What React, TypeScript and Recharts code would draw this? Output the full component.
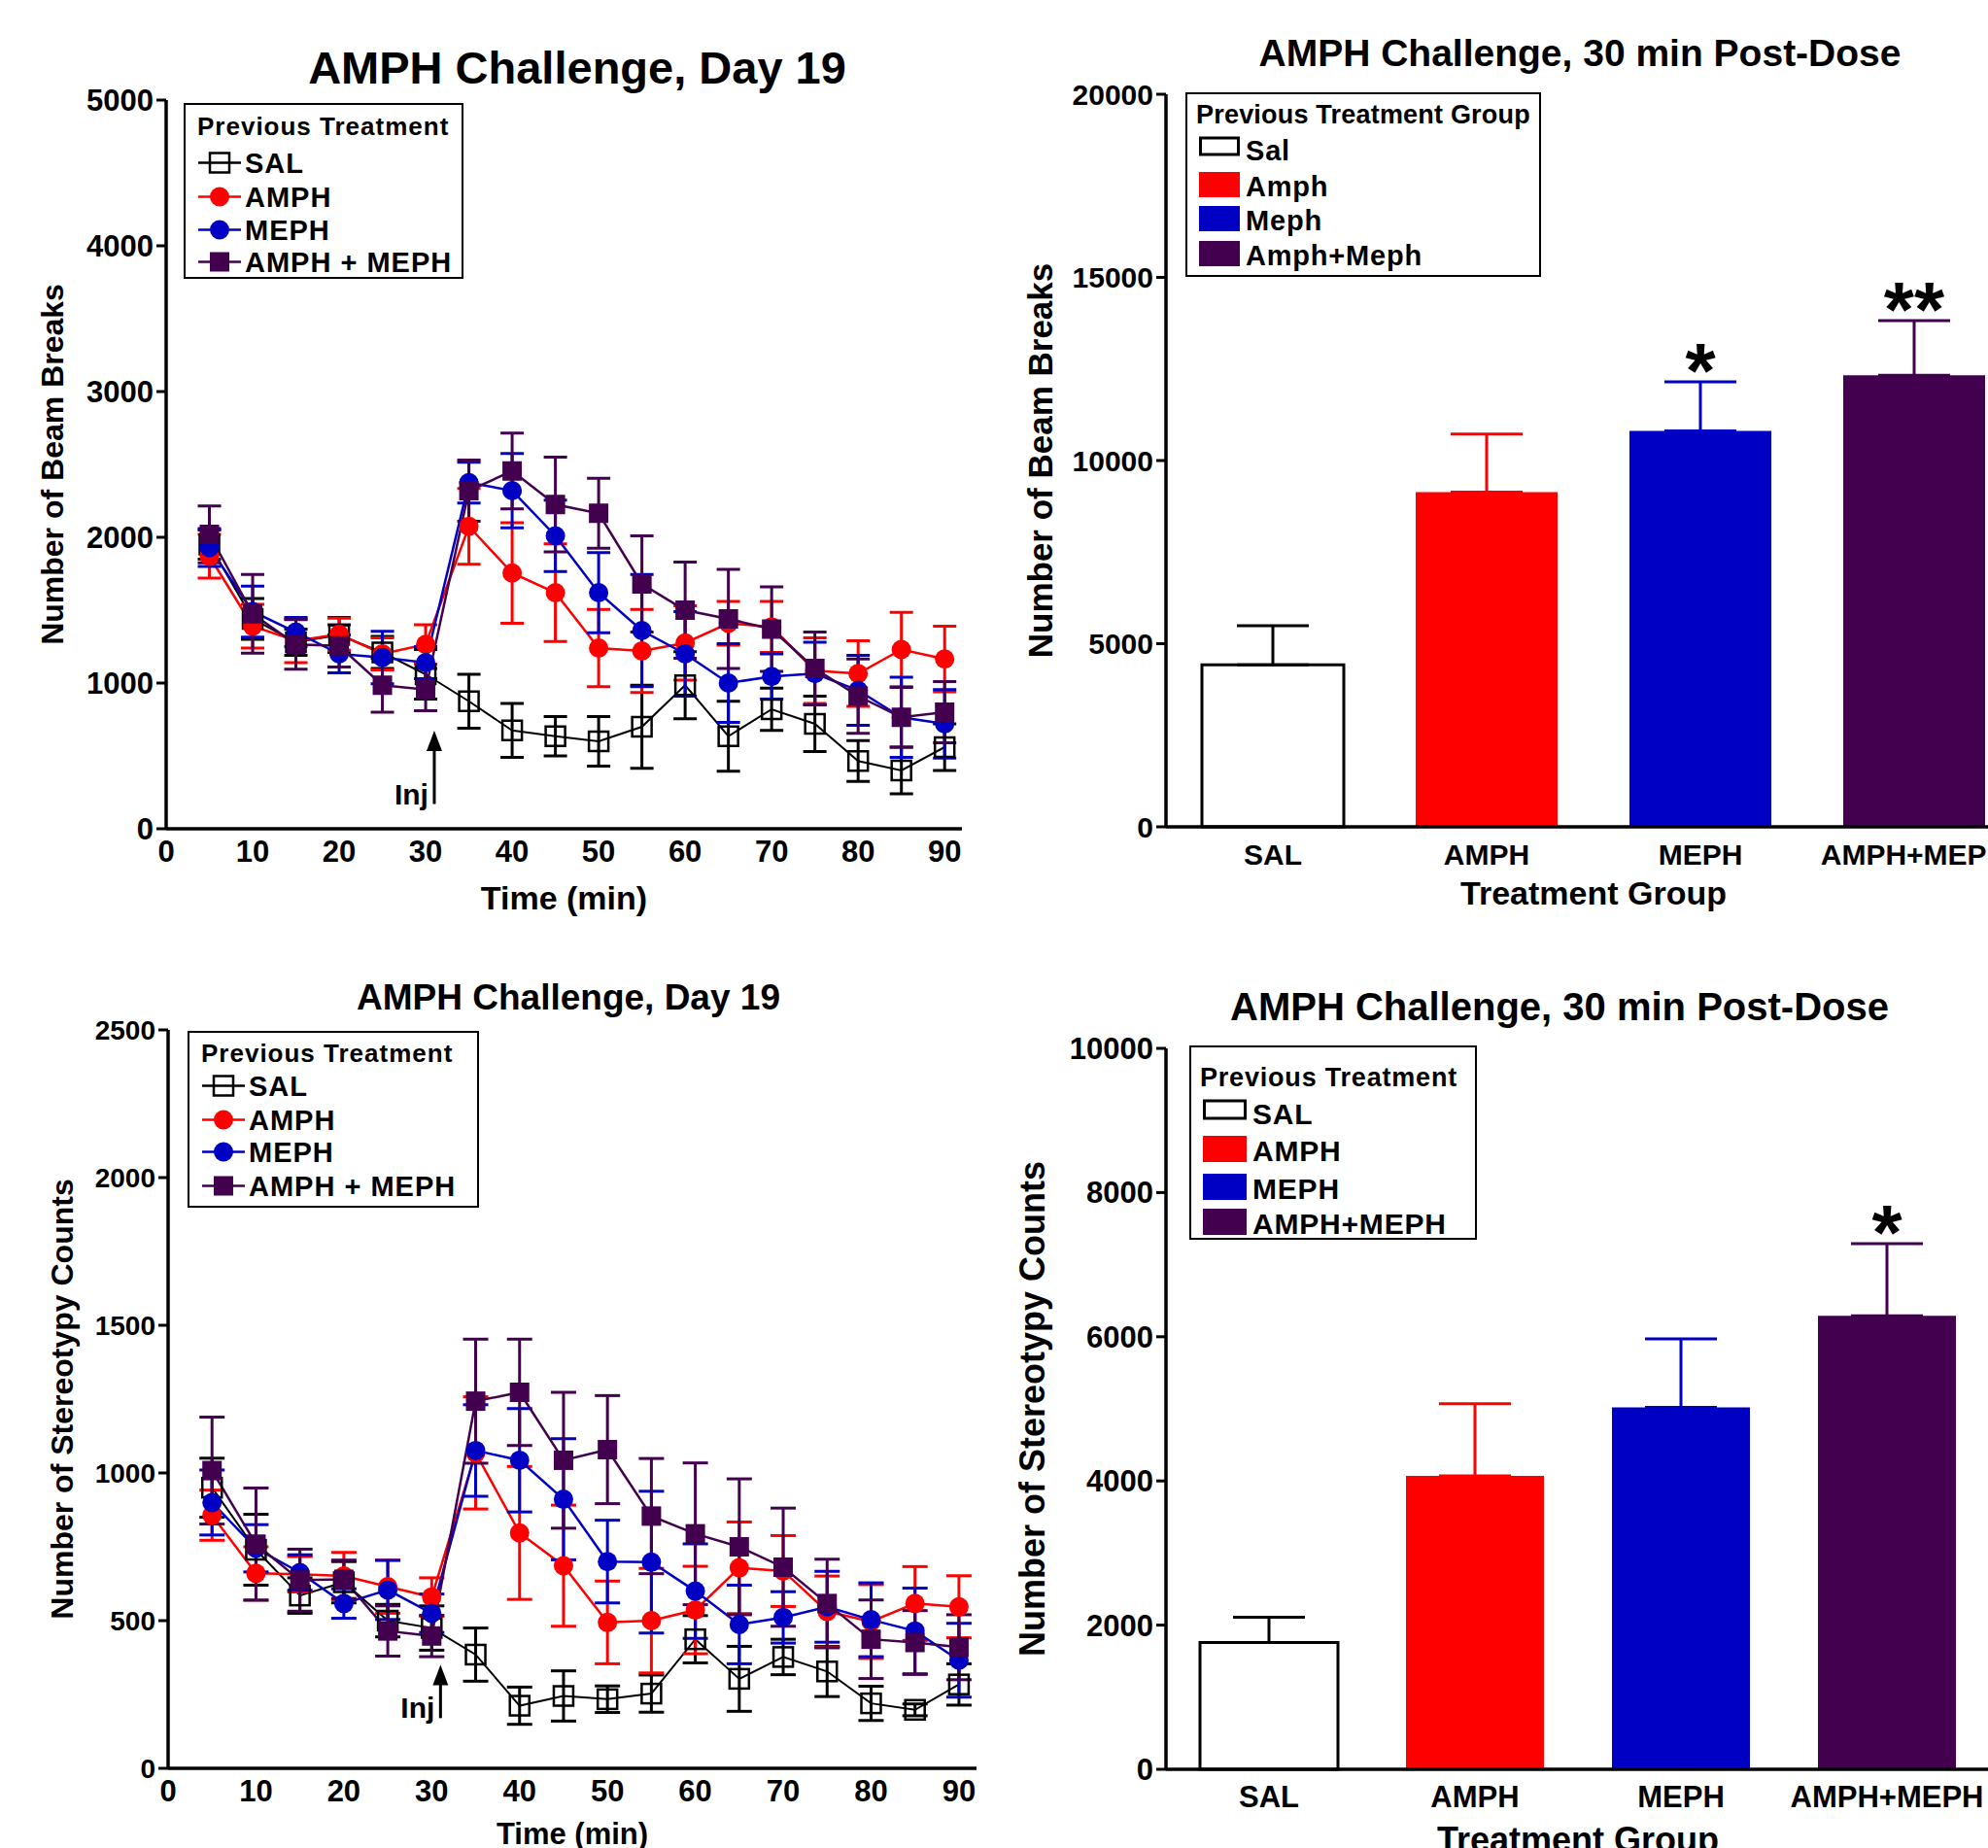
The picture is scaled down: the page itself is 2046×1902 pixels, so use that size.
import React from "react";
import {
  Bar,
  ComposedChart,
  ErrorBar,
  LabelList,
  Line,
  ReferenceDot,
  ReferenceLine,
  XAxis,
  YAxis,
} from "recharts";

const FONT = '"Liberation Sans", Arial, Helvetica, sans-serif';
const INK = "#000000";
const RED = "#ff0000";
const BLUE = "#0000c4";
const PURPLE = "#42004f";

// time course, 5-min bins
const TIMES = [5, 10, 15, 20, 25, 30, 35, 40, 45, 50, 55, 60, 65, 70, 75, 80, 85, 90];
const TIME_TICKS = [0, 10, 20, 30, 40, 50, 60, 70, 80, 90];
const INJ_TIME = 31;

// beam breaks (mean, SEM)
const BEAM_SAL = [1950, 1440, 1280, 1330, 1210, 1060, 875, 675, 635, 600, 700, 985, 635, 820, 720, 465, 400, 560];
const BEAM_SAL_SEM = [100, 140, 90, 120, 110, 170, 185, 185, 135, 170, 285, 230, 240, 145, 190, 140, 160, 160];
const BEAM_AMPH = [1870, 1390, 1290, 1335, 1200, 1265, 2075, 1755, 1620, 1240, 1220, 1275, 1410, 1385, 1085, 1065, 1230, 1165];
const BEAM_AMPH_SEM = [150, 150, 150, 110, 110, 135, 260, 345, 335, 265, 285, 255, 150, 175, 225, 225, 255, 225];
const BEAM_MEPH = [1930, 1490, 1350, 1200, 1175, 1140, 2375, 2320, 2010, 1620, 1360, 1200, 1000, 1045, 1065, 950, 765, 720];
const BEAM_MEPH_SEM = [130, 175, 100, 130, 180, 110, 140, 255, 245, 275, 385, 290, 270, 155, 215, 240, 275, 235];
const BEAM_COMBO = [2020, 1475, 1265, 1255, 985, 955, 2320, 2455, 2225, 2165, 1680, 1500, 1440, 1370, 1100, 910, 765, 800];
const BEAM_COMBO_SEM = [195, 270, 170, 145, 185, 145, 210, 260, 325, 240, 330, 330, 340, 290, 250, 255, 205, 210];
const BEAM_TICKS = [0, 1000, 2000, 3000, 4000, 5000];

// stereotypy counts (mean, SEM)
const STEREO_SAL = [950, 740, 585, 630, 500, 475, 385, 212, 245, 234, 253, 437, 303, 377, 328, 220, 198, 284];
const STEREO_SAL_SEM = [100, 120, 60, 70, 55, 75, 90, 63, 85, 45, 63, 80, 110, 60, 85, 58, 20, 70];
const STEREO_AMPH = [857, 660, 657, 651, 615, 580, 1068, 797, 686, 494, 500, 536, 679, 668, 531, 497, 558, 547];
const STEREO_AMPH_SEM = [85, 90, 60, 80, 90, 65, 190, 225, 205, 140, 177, 148, 155, 120, 120, 125, 125, 105];
const STEREO_MEPH = [900, 745, 663, 558, 604, 525, 1076, 1043, 911, 700, 698, 600, 487, 511, 547, 503, 465, 366];
const STEREO_MEPH_SEM = [110, 80, 60, 50, 100, 65, 155, 175, 205, 140, 240, 160, 133, 87, 120, 125, 145, 125];
const STEREO_COMBO = [1008, 759, 637, 640, 465, 448, 1243, 1273, 1043, 1079, 854, 794, 750, 681, 558, 437, 426, 410];
const STEREO_COMBO_SEM = [181, 190, 105, 65, 85, 70, 210, 180, 230, 183, 195, 240, 230, 200, 150, 133, 108, 110];
const STEREO_TICKS = [0, 500, 1000, 1500, 2000, 2500];

// 30 min post-dose totals
const GROUPS = ["SAL", "AMPH", "MEPH", "AMPH+MEPH"];
const BEAM_TOTAL = [4420, 9140, 10810, 12330];
const BEAM_TOTAL_SEM = [1070, 1580, 1340, 1490];
const BEAM_SIG = ["", "", "*", "**"];
const BEAM_TOTAL_TICKS = [0, 5000, 10000, 15000, 20000];
const STEREO_TOTAL = [1760, 4070, 5020, 6290];
const STEREO_TOTAL_SEM = [350, 1000, 950, 1000];
const STEREO_SIG = ["", "", "", "*"];
const STEREO_TOTAL_TICKS = [0, 2000, 4000, 6000, 8000, 10000];

type Kind = "openSquare" | "circle" | "square";

const SERIES: { key: string; name: string; color: string; kind: Kind; width: number }[] = [
  { key: "sal", name: "SAL", color: INK, kind: "openSquare", width: 2 },
  { key: "amph", name: "AMPH", color: RED, kind: "circle", width: 2.5 },
  { key: "meph", name: "MEPH", color: BLUE, kind: "circle", width: 2.5 },
  { key: "combo", name: "AMPH + MEPH", color: PURPLE, kind: "square", width: 2.5 },
];

const BAR_STYLES = [
  { fill: "#ffffff", stroke: INK, strokeWidth: 3, err: INK },
  { fill: RED, stroke: "none", strokeWidth: 0, err: RED },
  { fill: BLUE, stroke: "none", strokeWidth: 0, err: BLUE },
  { fill: PURPLE, stroke: "none", strokeWidth: 0, err: PURPLE },
];

function Marker(props: { kind: Kind; cx: number; cy: number; color: string }) {
  const { kind, cx, cy, color } = props;
  if (kind === "circle") return <circle cx={cx} cy={cy} r={10} fill={color} />;
  if (kind === "square") return <rect x={cx - 10} y={cy - 10} width={20} height={20} fill={color} />;
  return (
    <rect x={cx - 10} y={cy - 10} width={20} height={20} fill="none" stroke={color} strokeWidth={2.5} />
  );
}

function makeRows(cols: number[][]) {
  const [sal, salE, amph, amphE, meph, mephE, combo, comboE] = cols;
  return TIMES.map((t, i) => ({
    t,
    sal: sal[i],
    salErr: salE[i],
    amph: amph[i],
    amphErr: amphE[i],
    meph: meph[i],
    mephErr: mephE[i],
    combo: combo[i],
    comboErr: comboE[i],
  }));
}

const txt = (size: number) => ({
  fontSize: size,
  fontWeight: 700,
  fontFamily: FONT,
  fill: INK,
});

function TimeCourse(p: {
  left: number;
  top: number;
  width: number;
  height: number;
  marginTop: number;
  marginRight: number;
  yAxisWidth: number;
  xAxisHeight: number;
  rows: any[];
  yTicks: number[];
  yLabel: string;
  yLabelSize: number;
  yLabelOffset: number;
  yTickSize: number;
  xTickSize: number;
  xTickMargin: number;
  xLabelSize: number;
  xLabelOffset: number;
  cap: number;
  injTip: number;
  injBase: number;
  injShaftTop: number;
}) {
  const yMax = p.yTicks[p.yTicks.length - 1];
  return (
    <div style={{ position: "absolute", left: p.left, top: p.top }}>
      <ComposedChart
        width={p.width}
        height={p.height}
        data={p.rows}
        margin={{ top: p.marginTop, right: p.marginRight, bottom: 0, left: 0 }}
      >
        <XAxis
          dataKey="t"
          type="number"
          domain={[0, 92]}
          ticks={TIME_TICKS}
          interval={0}
          height={p.xAxisHeight}
          tickLine={false}
          tickSize={0}
          tickMargin={p.xTickMargin}
          axisLine={{ stroke: INK, strokeWidth: 3.5 }}
          tick={txt(p.xTickSize)}
          label={{
            value: "Time (min)",
            position: "insideBottom",
            offset: p.xLabelOffset,
            ...txt(p.xLabelSize),
          }}
        />
        <YAxis
          type="number"
          domain={[0, yMax]}
          ticks={p.yTicks}
          interval={0}
          width={p.yAxisWidth}
          tickSize={10}
          tickMargin={3}
          tickLine={{ stroke: INK, strokeWidth: 3 }}
          axisLine={{ stroke: INK, strokeWidth: 3.5 }}
          tick={txt(p.yTickSize)}
          label={{
            value: p.yLabel,
            angle: -90,
            position: "insideLeft",
            offset: p.yLabelOffset,
            style: { textAnchor: "middle" },
            ...txt(p.yLabelSize),
          }}
        />
        <ReferenceLine
          segment={[
            { x: INJ_TIME, y: p.injBase },
            { x: INJ_TIME, y: p.injShaftTop },
          ]}
          stroke={INK}
          strokeWidth={3}
        />
        <ReferenceDot
          x={INJ_TIME}
          y={p.injTip}
          shape={(d: any) => (
            <polygon
              points={`${d.cx},${d.cy} ${d.cx - 8},${d.cy + 21} ${d.cx + 8},${d.cy + 21}`}
              fill={INK}
            />
          )}
        />
        <ReferenceDot
          x={INJ_TIME}
          y={p.injBase}
          shape={(d: any) => (
            <text x={d.cx - 6} y={d.cy} textAnchor="end" {...txt(30)}>
              Inj
            </text>
          )}
        />
        {SERIES.map((s) => (
          <Line
            key={s.key}
            dataKey={s.key}
            stroke={s.color}
            strokeWidth={s.width}
            isAnimationActive={false}
            activeDot={false}
            dot={(d: any) => (
              <Marker key={`${s.key}-${d.index}`} kind={s.kind} cx={d.cx} cy={d.cy} color={s.color} />
            )}
          >
            <ErrorBar
              dataKey={`${s.key}Err`}
              direction="y"
              width={p.cap}
              stroke={s.color}
              strokeWidth={3}
            />
          </Line>
        ))}
      </ComposedChart>
    </div>
  );
}

function GroupBars(p: {
  left: number;
  top: number;
  width: number;
  height: number;
  marginTop: number;
  marginLeft: number;
  xAxisHeight: number;
  means: number[];
  sems: number[];
  sig: string[];
  yTicks: number[];
  yLabel: string;
  yLabelSize: number;
  yLabelOffset: number;
  yTickSize: number;
  xTickSize: number;
  xTickMargin: number;
  xLabelSize: number;
  xLabelOffset: number;
  barSize: number;
}) {
  const yMax = p.yTicks[p.yTicks.length - 1];
  const rows = GROUPS.map((g, i) => {
    const row: any = { group: g, top: p.means[i] + p.sems[i], sig: p.sig[i] };
    row[`v${i}`] = p.means[i];
    row[`e${i}`] = [0, p.sems[i]];
    return row;
  });
  return (
    <div style={{ position: "absolute", left: p.left, top: p.top }}>
      <ComposedChart
        width={p.width}
        height={p.height}
        data={rows}
        margin={{ top: p.marginTop, right: 0, bottom: 0, left: p.marginLeft }}
      >
        <XAxis
          dataKey="group"
          type="category"
          interval={0}
          height={p.xAxisHeight}
          tickLine={false}
          tickSize={0}
          tickMargin={p.xTickMargin}
          axisLine={{ stroke: INK, strokeWidth: 3.5 }}
          tick={txt(p.xTickSize)}
          label={{
            value: "Treatment Group",
            position: "insideBottom",
            offset: p.xLabelOffset,
            ...txt(p.xLabelSize),
          }}
        />
        <YAxis
          type="number"
          domain={[0, yMax]}
          ticks={p.yTicks}
          interval={0}
          width={170}
          tickSize={10}
          tickMargin={3}
          tickLine={{ stroke: INK, strokeWidth: 3 }}
          axisLine={{ stroke: INK, strokeWidth: 3.5 }}
          tick={txt(p.yTickSize)}
          label={{
            value: p.yLabel,
            angle: -90,
            position: "insideLeft",
            offset: p.yLabelOffset,
            style: { textAnchor: "middle" },
            ...txt(p.yLabelSize),
          }}
        />
        {BAR_STYLES.map((b, i) => (
          <Bar
            key={i}
            dataKey={`v${i}`}
            stackId="g"
            barSize={p.barSize}
            fill={b.fill}
            stroke={b.stroke}
            strokeWidth={b.strokeWidth}
            isAnimationActive={false}
          >
            <ErrorBar dataKey={`e${i}`} direction="y" width={37} stroke={b.err} strokeWidth={3} />
          </Bar>
        ))}
        <Line
          dataKey="top"
          stroke="none"
          dot={false}
          activeDot={false}
          legendType="none"
          isAnimationActive={false}
        >
          <LabelList
            dataKey="sig"
            content={(l: any) =>
              l.value ? (
                <text x={l.x} y={l.y + 16} textAnchor="middle" {...txt(80)}>
                  {l.value}
                </text>
              ) : null
            }
          />
        </Line>
      </ComposedChart>
    </div>
  );
}

function LineLegend(p: { x: number; y: number; w: number; h: number; titleY: number; rows: number[] }) {
  return (
    <g>
      <rect x={p.x} y={p.y} width={p.w} height={p.h} fill="#fff" stroke={INK} strokeWidth={2} />
      <text x={p.x + 13} y={p.titleY} {...txt(26)} letterSpacing={1}>
        Previous Treatment
      </text>
      {SERIES.map((s, i) => (
        <g key={s.key}>
          <line x1={p.x + 14} x2={p.x + 58} y1={p.rows[i] - 10.5} y2={p.rows[i] - 10.5} stroke={s.color} strokeWidth={2.5} />
          <Marker kind={s.kind} cx={p.x + 36} cy={p.rows[i] - 10.5} color={s.color} />
          <text x={p.x + 62} y={p.rows[i]} {...txt(29)} letterSpacing={1}>
            {s.name}
          </text>
        </g>
      ))}
    </g>
  );
}

function BarLegend(p: {
  x: number;
  y: number;
  w: number;
  h: number;
  title: string;
  titleY: number;
  titleSpacing: number;
  names: string[];
  rows: number[];
  swW: number;
  swH: number;
  textX: number;
  size: number;
}) {
  return (
    <g>
      <rect x={p.x} y={p.y} width={p.w} height={p.h} fill="#fff" stroke={INK} strokeWidth={2} />
      <text x={p.x + 10} y={p.titleY} {...txt(27)} letterSpacing={p.titleSpacing}>
        {p.title}
      </text>
      {BAR_STYLES.map((b, i) =>
        i === 0 ? (
          <rect
            key={i}
            x={p.x + 14.5}
            y={p.rows[i] - p.swH + 3}
            width={p.swW - 3}
            height={p.swH - 9}
            fill="#fff"
            stroke={INK}
            strokeWidth={3}
          />
        ) : (
          <rect key={i} x={p.x + 13} y={p.rows[i] - p.swH + 1} width={p.swW} height={p.swH} fill={b.fill} />
        )
      )}
      {p.names.map((n, i) => (
        <text key={n} x={p.textX} y={p.rows[i]} {...txt(p.size)} letterSpacing={0.8}>
          {n}
        </text>
      ))}
    </g>
  );
}

export default function App() {
  const beamRows = makeRows([
    BEAM_SAL, BEAM_SAL_SEM, BEAM_AMPH, BEAM_AMPH_SEM, BEAM_MEPH, BEAM_MEPH_SEM, BEAM_COMBO, BEAM_COMBO_SEM,
  ]);
  const stereoRows = makeRows([
    STEREO_SAL, STEREO_SAL_SEM, STEREO_AMPH, STEREO_AMPH_SEM, STEREO_MEPH, STEREO_MEPH_SEM, STEREO_COMBO, STEREO_COMBO_SEM,
  ]);

  return (
    <div
      style={{
        position: "fixed",
        left: 0,
        top: 0,
        width: 2046,
        height: 1902,
        overflow: "hidden",
        background: "#fff",
        fontFamily: FONT,
      }}
    >
      <TimeCourse
        left={0}
        top={0}
        width={1023}
        height={951}
        marginTop={103}
        marginRight={33}
        yAxisWidth={171}
        xAxisHeight={98}
        rows={beamRows}
        yTicks={BEAM_TICKS}
        yLabel="Number of Beam Breaks"
        yLabelSize={32}
        yLabelOffset={54}
        yTickSize={31}
        xTickSize={31}
        xTickMargin={12}
        xLabelSize={34}
        xLabelOffset={15}
        cap={12}
        injTip={673}
        injBase={170}
        injShaftTop={545}
      />
      <GroupBars
        left={900}
        top={0}
        width={1180}
        height={951}
        marginTop={97}
        marginLeft={130}
        xAxisHeight={100}
        means={BEAM_TOTAL}
        sems={BEAM_TOTAL_SEM}
        sig={BEAM_SIG}
        yTicks={BEAM_TOTAL_TICKS}
        yLabel="Number of Beam Breaks"
        yLabelSize={35}
        yLabelOffset={41}
        yTickSize={30}
        xTickSize={30}
        xTickMargin={18}
        xLabelSize={34}
        xLabelOffset={20}
        barSize={146}
      />
      <TimeCourse
        left={0}
        top={951}
        width={1023}
        height={1000}
        marginTop={109}
        marginRight={18}
        yAxisWidth={173}
        xAxisHeight={131}
        rows={stereoRows}
        yTicks={STEREO_TICKS}
        yLabel="Number of Stereotypy Counts"
        yLabelSize={32}
        yLabelOffset={64}
        yTickSize={28}
        xTickSize={31}
        xTickMargin={12}
        xLabelSize={31}
        xLabelOffset={53}
        cap={13}
        injTip={350}
        injBase={170}
        injShaftTop={290}
      />
      <GroupBars
        left={900}
        top={951}
        width={1148}
        height={1000}
        marginTop={128}
        marginLeft={130}
        xAxisHeight={130}
        means={STEREO_TOTAL}
        sems={STEREO_TOTAL_SEM}
        sig={STEREO_SIG}
        yTicks={STEREO_TOTAL_TICKS}
        yLabel="Number of Stereotypy Counts"
        yLabelSize={36}
        yLabelOffset={32}
        yTickSize={31}
        xTickSize={31}
        xTickMargin={17}
        xLabelSize={36}
        xLabelOffset={45}
        barSize={142}
      />
      <svg
        width={2046}
        height={1902}
        style={{ position: "absolute", left: 0, top: 0, pointerEvents: "none" }}
      >
        <text x={594} y={86} textAnchor="middle" {...txt(47)}>
          AMPH Challenge, Day 19
        </text>
        <text x={1626} y={68} textAnchor="middle" {...txt(39)}>
          AMPH Challenge, 30 min Post-Dose
        </text>
        <text x={585} y={1039} textAnchor="middle" {...txt(37)}>
          AMPH Challenge, Day 19
        </text>
        <text x={1605} y={1050} textAnchor="middle" {...txt(40)}>
          AMPH Challenge, 30 min Post-Dose
        </text>
        <LineLegend x={190} y={107} w={286} h={179} titleY={139} rows={[178, 213, 247, 280]} />
        <LineLegend x={194} y={1062} w={298} h={180} titleY={1093} rows={[1128, 1163, 1196, 1231]} />
        <BarLegend
          x={1221}
          y={96}
          w={364}
          h={188}
          title="Previous Treatment Group"
          titleY={127}
          titleSpacing={0.2}
          names={["Sal", "Amph", "Meph", "Amph+Meph"]}
          rows={[165, 202, 237, 273]}
          swW={42}
          swH={26}
          textX={1282}
          size={29}
        />
        <BarLegend
          x={1225}
          y={1077}
          w={294}
          h={198}
          title="Previous Treatment"
          titleY={1118}
          titleSpacing={0.8}
          names={["SAL", "AMPH", "MEPH", "AMPH+MEPH"]}
          rows={[1157, 1195, 1234, 1270]}
          swW={45}
          swH={27}
          textX={1289}
          size={30}
        />
      </svg>
    </div>
  );
}
